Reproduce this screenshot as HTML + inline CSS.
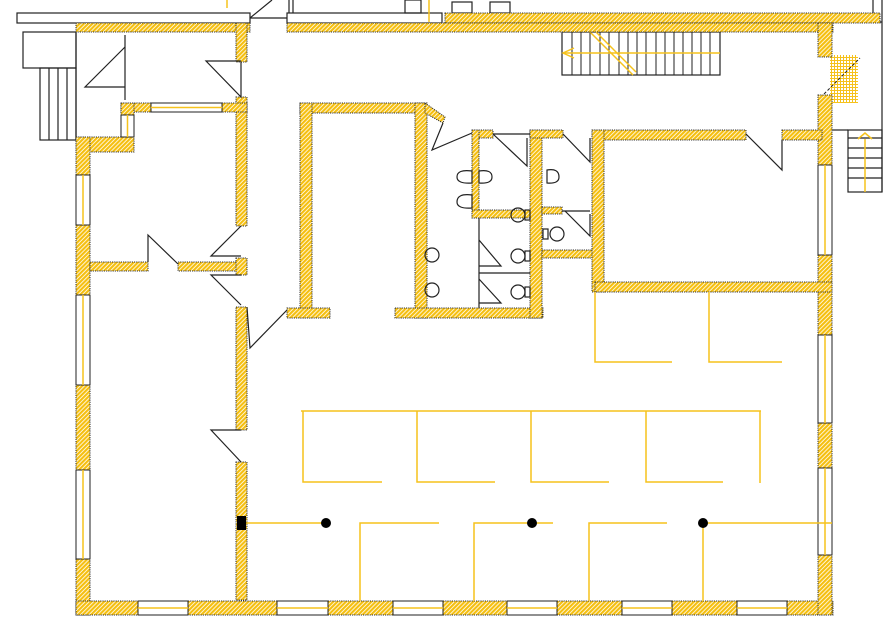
<!DOCTYPE html>
<html><head><meta charset="utf-8"><style>html,body{margin:0;padding:0;background:#fff}svg{display:block}</style></head>
<body>
<svg width="895" height="633" viewBox="0 0 895 633" xmlns="http://www.w3.org/2000/svg">
<defs>
<pattern id="h" width="3" height="3" patternUnits="userSpaceOnUse" patternTransform="rotate(45)">
<rect width="3" height="3" fill="#fff"/><rect width="2.2" height="3" fill="#f5bf10"/>
</pattern>
<pattern id="g" width="3" height="3" patternUnits="userSpaceOnUse">
<rect width="3" height="3" fill="#fff"/><rect width="3" height="1" fill="#f6c21c"/><rect width="1" height="3" fill="#f6c21c"/>
</pattern>
</defs>
<g fill="none" stroke="#222" stroke-width="1.2">
<rect x="17" y="13" width="233" height="10" fill="#fff"/>
<rect x="287" y="13" width="155" height="10" fill="#fff"/>
<line x1="250" y1="18" x2="287" y2="18"/>
<line x1="250" y1="18" x2="272" y2="0"/>
<line x1="289" y1="0" x2="289" y2="13"/><line x1="293" y1="0" x2="293" y2="13"/>
<rect x="405" y="0" width="16" height="13"/><rect x="452" y="2" width="20" height="11"/><rect x="490" y="2" width="20" height="11"/>
<line x1="873" y1="0" x2="873" y2="13"/><line x1="882" y1="0" x2="882" y2="22"/>
<line x1="833" y1="22" x2="882" y2="22"/>
<rect x="23" y="32" width="53" height="36"/>
<rect x="40" y="68" width="36" height="72"/>
<line x1="49" y1="68" x2="49" y2="140"/><line x1="58" y1="68" x2="58" y2="140"/><line x1="67" y1="68" x2="67" y2="140"/>
<line x1="76" y1="32" x2="76" y2="140"/>
<rect x="848" y="130" width="34" height="62"/>
<line x1="848" y1="138" x2="882" y2="138"/><line x1="848" y1="148" x2="882" y2="148"/><line x1="848" y1="158" x2="882" y2="158"/><line x1="848" y1="168" x2="882" y2="168"/><line x1="848" y1="178" x2="882" y2="178"/>
<line x1="832" y1="130" x2="848" y2="130"/><line x1="882" y1="22" x2="882" y2="192"/>
<rect x="562" y="32" width="158" height="43"/>
</g>
<g stroke="#222" stroke-width="1">
<line x1="572" y1="32" x2="572" y2="75"/><line x1="581" y1="32" x2="581" y2="75"/><line x1="590" y1="32" x2="590" y2="75"/><line x1="600" y1="32" x2="600" y2="75"/><line x1="609" y1="32" x2="609" y2="75"/><line x1="619" y1="32" x2="619" y2="75"/><line x1="628" y1="32" x2="628" y2="75"/><line x1="637" y1="32" x2="637" y2="75"/><line x1="646" y1="32" x2="646" y2="75"/><line x1="656" y1="32" x2="656" y2="75"/><line x1="665" y1="32" x2="665" y2="75"/><line x1="674" y1="32" x2="674" y2="75"/><line x1="683" y1="32" x2="683" y2="75"/><line x1="692" y1="32" x2="692" y2="75"/><line x1="701" y1="32" x2="701" y2="75"/><line x1="710" y1="32" x2="710" y2="75"/>
</g>
<g stroke="#f6c21c" stroke-width="1.5" fill="none">
<line x1="563" y1="53" x2="720" y2="53"/><polyline points="574,48 563,53 574,58"/>
<line x1="590" y1="32" x2="633" y2="75"/><line x1="596" y1="32" x2="636" y2="72"/>
<line x1="865" y1="139" x2="865" y2="192"/><polyline points="858,139 865,133 872,139"/>
<line x1="227" y1="0" x2="227" y2="8"/><line x1="429" y1="0" x2="429" y2="22"/>
</g>
<rect x="830" y="55" width="28" height="48" fill="url(#g)"/>
<line x1="824" y1="94" x2="860" y2="58" stroke="#222" stroke-dasharray="3 2"/>
<g fill="url(#h)" stroke="#333" stroke-width="1" stroke-dasharray="1.2 1">
<rect x="445" y="13" width="435" height="10"/>
<rect x="76" y="23" width="174" height="9"/>
<rect x="287" y="23" width="546" height="9"/>
<rect x="236" y="23" width="11" height="39"/>
<rect x="236" y="97" width="11" height="129"/>
<rect x="121" y="103" width="30" height="9"/>
<rect x="222" y="103" width="25" height="9"/>
<rect x="121" y="103" width="13" height="12"/>
<rect x="76" y="137" width="58" height="15"/>
<rect x="76" y="137" width="14" height="38"/>
<rect x="76" y="225" width="14" height="70"/>
<rect x="76" y="385" width="14" height="85"/>
<rect x="76" y="559" width="14" height="56"/>
<rect x="90" y="262" width="58" height="9"/>
<rect x="178" y="262" width="68" height="9"/>
<rect x="236" y="258" width="11" height="17"/>
<rect x="236" y="307" width="11" height="123"/>
<rect x="236" y="462" width="11" height="138"/>
<rect x="76" y="601" width="62" height="14"/>
<rect x="188" y="601" width="89" height="14"/>
<rect x="328" y="601" width="65" height="14"/>
<rect x="443" y="601" width="64" height="14"/>
<rect x="557" y="601" width="65" height="14"/>
<rect x="672" y="601" width="65" height="14"/>
<rect x="787" y="601" width="46" height="14"/>
<rect x="818" y="23" width="14" height="34"/>
<rect x="818" y="95" width="14" height="70"/>
<rect x="818" y="255" width="14" height="80"/>
<rect x="818" y="423" width="14" height="45"/>
<rect x="818" y="555" width="14" height="60"/>
<rect x="300" y="103" width="125" height="10"/>
<rect x="300" y="103" width="12" height="215"/>
<rect x="415" y="103" width="12" height="215"/>
<rect x="287" y="308" width="43" height="10"/>
<rect x="395" y="308" width="148" height="10"/>
<polygon points="425,103 445,117 443,123 425,113"/>
<rect x="472" y="130" width="21" height="8"/>
<rect x="472" y="130" width="7" height="88"/>
<rect x="472" y="210" width="70" height="8"/>
<rect x="530" y="130" width="12" height="188"/>
<rect x="530" y="130" width="33" height="8"/>
<rect x="542" y="207" width="20" height="7"/>
<rect x="542" y="250" width="60" height="8"/>
<rect x="592" y="130" width="154" height="10"/>
<rect x="592" y="130" width="12" height="162"/>
<rect x="782" y="130" width="40" height="10"/>
<rect x="595" y="282" width="237" height="10"/>
</g>
<g fill="#fff" stroke="#222" stroke-width="1">
<rect x="151" y="103" width="71" height="9"/>
<rect x="121" y="115" width="13" height="22"/>
<rect x="76" y="175" width="14" height="50"/><rect x="76" y="295" width="14" height="90"/><rect x="76" y="470" width="14" height="89"/>
<rect x="138" y="601" width="50" height="14"/><rect x="277" y="601" width="51" height="14"/><rect x="393" y="601" width="50" height="14"/><rect x="507" y="601" width="50" height="14"/><rect x="622" y="601" width="50" height="14"/><rect x="737" y="601" width="50" height="14"/>
<rect x="818" y="165" width="14" height="90"/><rect x="818" y="335" width="14" height="88"/><rect x="818" y="468" width="14" height="87"/>
</g>
<g stroke="#f6c21c" stroke-width="1.5">
<line x1="151" y1="107.5" x2="222" y2="107.5"/><line x1="127.5" y1="115" x2="127.5" y2="137"/>
<line x1="83" y1="175" x2="83" y2="225"/><line x1="83" y1="295" x2="83" y2="385"/><line x1="83" y1="470" x2="83" y2="559"/>
<line x1="138" y1="608" x2="188" y2="608"/><line x1="277" y1="608" x2="328" y2="608"/><line x1="393" y1="608" x2="443" y2="608"/><line x1="507" y1="608" x2="557" y2="608"/><line x1="622" y1="608" x2="672" y2="608"/><line x1="737" y1="608" x2="787" y2="608"/>
<line x1="825" y1="165" x2="825" y2="255"/><line x1="825" y1="335" x2="825" y2="423"/><line x1="825" y1="468" x2="825" y2="555"/>
</g>
<g fill="none" stroke="#222" stroke-width="1.2">
<polyline points="125,35 125,100"/><polyline points="125,47 85,87 125,87"/>
<polyline points="241,62 241,97 206,61 241,61"/>
<polyline points="148,262 148,235 178,264"/>
<polyline points="241,226 211,256 241,256"/>
<polyline points="241,275 211,275 241,305"/>
<polyline points="247,307 250,348 287,310"/>
<polyline points="241,430 211,430 241,462"/>
<polyline points="443,123 432,150 472,133"/>
<polyline points="493,134 530,134"/><polyline points="493,134 527,166 527,138"/>
<polyline points="563,134 590,162 590,138"/>
<polyline points="746,134 782,170 782,140"/>
<polyline points="562,211 590,211"/><polyline points="565,211 590,236 590,214"/>
<line x1="479" y1="218" x2="479" y2="308"/><line x1="479" y1="273" x2="530" y2="273"/>
<polyline points="479,240 501,266 479,266"/><polyline points="479,279 501,303 479,303"/>
<ellipse cx="432" cy="255" rx="7" ry="7"/><ellipse cx="432" cy="290" rx="7" ry="7"/>
<ellipse cx="518" cy="215" rx="7" ry="7"/><rect x="525" y="210" width="5" height="10"/>
<ellipse cx="518" cy="256" rx="7" ry="7"/><rect x="525" y="251" width="5" height="10"/>
<ellipse cx="518" cy="292" rx="7" ry="7"/><rect x="525" y="287" width="5" height="10"/>
<ellipse cx="557" cy="234" rx="7" ry="7"/><rect x="543" y="229" width="5" height="10"/>
<path d="M472,171 q-15,-2 -15,6 q0,7 15,6 z M479,171 q13,-2 13,6 q0,7 -13,6 z M472,195 q-15,-2 -15,7 q0,7 15,6 z M547,170 q12,-2 12,7 q0,7 -12,6 z"/>
</g>
<g fill="none" stroke="#f6c21c" stroke-width="1.5">
<polyline points="595,292 595,362 672,362"/><polyline points="709,292 709,362 782,362"/>
<line x1="301" y1="411" x2="761" y2="411"/>
<polyline points="303,411 303,482 382,482"/><polyline points="417,411 417,482 495,482"/><polyline points="531,411 531,482 609,482"/><polyline points="646,411 646,482 723,482"/><line x1="760" y1="411" x2="760" y2="483"/>
<line x1="247" y1="523" x2="326" y2="523"/>
<polyline points="360,601 360,523 439,523"/><polyline points="474,601 474,523 553,523"/><polyline points="589,601 589,523 667,523"/>
<line x1="703" y1="523" x2="832" y2="523"/><line x1="703" y1="523" x2="703" y2="601"/>
</g>
<rect x="237" y="516" width="9" height="14" fill="#000"/>
<g fill="#000"><circle cx="326" cy="523" r="5"/><circle cx="532" cy="523" r="5"/><circle cx="703" cy="523" r="5"/></g>
</svg>
</body></html>
